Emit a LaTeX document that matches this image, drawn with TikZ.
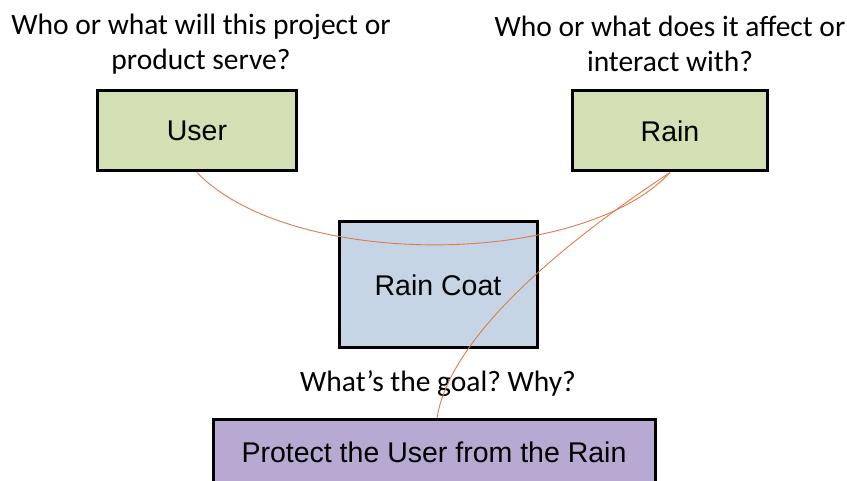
\documentclass[tikz,border=0pt]{standalone}
\usepackage{fontspec}
\setmainfont{Liberation Sans}
\newfontfamily\qfont{Carlito}
\definecolor{boxgreen}{HTML}{D3E0B4}
\definecolor{boxblue}{HTML}{C6D5E6}
\definecolor{boxpurple}{HTML}{B7A9D2}
\definecolor{linkred}{HTML}{E07A4C}
\begin{document}
\frenchspacing
\begin{tikzpicture}[x=1pt,y=-1pt,
  box/.style={draw=black,line width=3pt,rectangle,inner sep=0pt,font=\fontsize{28.5}{32}\selectfont},
  question/.style={align=center,font=\qfont\fontsize{29.5}{35}\selectfont,inner sep=0pt},
  link/.style={draw=linkred,line width=0.9pt}]
\useasboundingbox (0,0) rectangle (847,481);
\node[question] (q1) at (201,44) {Who or what will this project or\\product serve?};
\node[question] (q2) at (670,44) {Who or what does it affect or\\interact with?};
\node[box,fill=boxgreen,minimum width=199pt,minimum height=80pt] (user) at (197,131) {User};
\node[box,fill=boxgreen,minimum width=195pt,minimum height=80pt] (rain) at (670,131) {Rain};
\node[box,fill=boxblue,minimum width=198pt,minimum height=126pt] (coat) at (438,285) {Rain Coat};
\node[box,fill=boxpurple,minimum width=442pt,minimum height=72pt,anchor=north] (goal) at (434,418) {\raisebox{6pt}{Protect the User from the Rain}};
\node[question] (gq) at (438,384) {What’s the goal? Why?};
\draw[link] (user.south) .. controls (290,269) and (580,269) .. (rain.south);
\draw[link] (rain.south) .. controls (595,222) and (452,325) .. ([xshift=3pt]goal.north);
\end{tikzpicture}
\end{document}
